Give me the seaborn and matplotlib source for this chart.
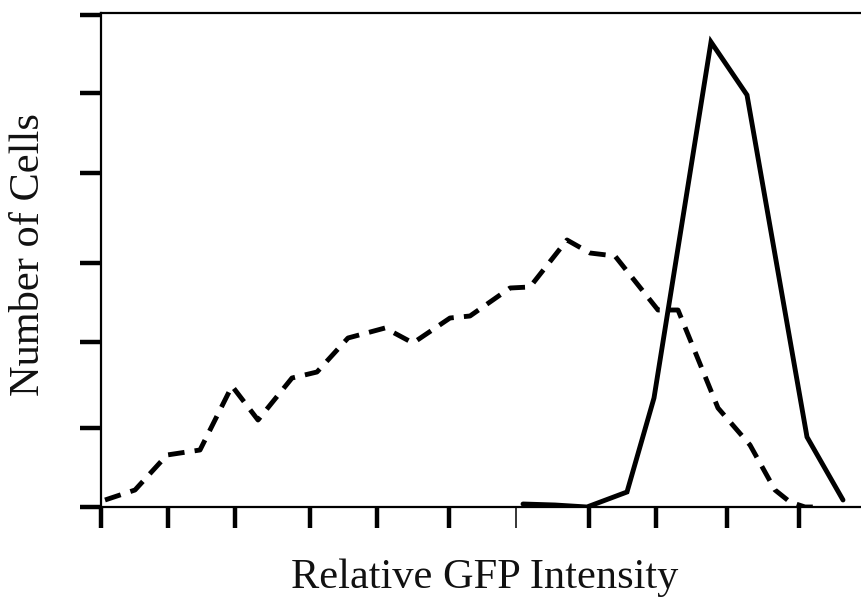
import matplotlib
matplotlib.use("Agg")
import matplotlib.pyplot as plt
import seaborn as sns
import pandas as pd

# Dashed histogram (control cells)
dashed_x = [4, 34, 66, 99, 131, 157, 191, 216, 247, 284, 312, 349, 369, 409, 429,
            466, 489, 514, 557, 577, 617, 649, 674, 689, 704, 721]
dashed_y = [7, 17, 52, 57, 121, 87, 129, 135, 169, 179, 164, 189, 191, 219, 220,
            267, 254, 251, 197, 197, 99, 62, 17, 5, 0, 0]

# Solid histogram (GFP-high cells)
solid_x = [422, 454, 486, 526, 553, 610, 646, 706, 742]
solid_y = [3, 2, 0, 15, 109, 465, 412, 70, 7]

# Tick positions (no tick labels in the reference)
x_ticks_major = [0, 67, 134, 209, 276, 348, 488, 555, 626, 698]
x_ticks_minor = [415]
y_ticks = [0, 79, 165, 244, 334, 414, 492]

x_label = "Relative GFP Intensity"
y_label = "Number of Cells"

sns.set_theme(style="white")
plt.rcParams["font.family"] = ["Liberation Serif", "DejaVu Serif"]

fig = plt.figure(figsize=(8.61, 6.07), dpi=100)
ax = fig.add_axes([101 / 861, 1 - 507 / 607, 1 - 101 / 861, (507 - 13) / 607])

df_d = pd.DataFrame({"x": dashed_x, "y": dashed_y})
df_s = pd.DataFrame({"x": solid_x, "y": solid_y})

sns.lineplot(data=df_d, x="x", y="y", ax=ax, color="black", linewidth=3.5,
             dashes=False, sort=False)
ax.lines[-1].set_dashes((3.4, 2.1))
ax.lines[-1].set_dash_capstyle("butt")
sns.lineplot(data=df_s, x="x", y="y", ax=ax, color="black", linewidth=3.5,
             sort=False)
ax.lines[-1].set_solid_joinstyle("miter")

ax.set_xlim(0, 760)
ax.set_ylim(0, 494)

ax.set_xticks(x_ticks_major)
ax.set_xticks(x_ticks_minor, minor=True)
ax.set_yticks(y_ticks)
ax.set_xticklabels([])
ax.set_yticklabels([])

ax.tick_params(axis="x", which="major", direction="out", length=15, width=3.2,
               color="black", bottom=True)
ax.tick_params(axis="x", which="minor", direction="out", length=15, width=1.1,
               color="black", bottom=True)
ax.tick_params(axis="y", which="major", direction="out", length=15, width=3.2,
               color="black", left=True)

for side in ["left", "top", "bottom"]:
    ax.spines[side].set_visible(True)
    ax.spines[side].set_color("black")
    ax.spines[side].set_linewidth(1.6)
ax.spines["right"].set_visible(False)

ax.set_xlabel("")
ax.set_ylabel("")
fig.text(485 / 861, 1 - 578 / 607, x_label, ha="center", va="center",
         fontsize=30.5, color="#111111")
fig.text(29 / 861, 1 - 255 / 607, y_label, ha="center", va="center",
         fontsize=30.5, rotation=90, color="#111111")

fig.savefig("out.png", dpi=100, facecolor="white")
